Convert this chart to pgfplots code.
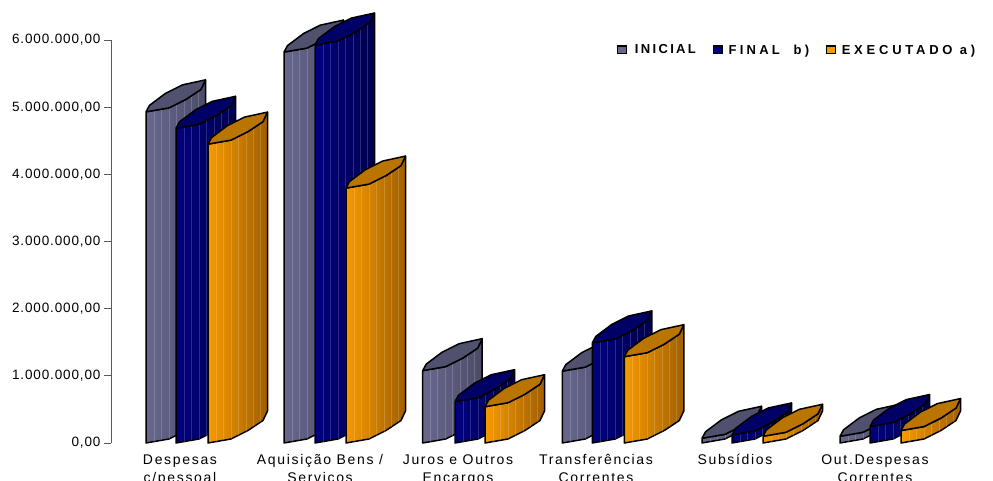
\documentclass[border=0pt]{standalone}
\usepackage{fontspec}
\usepackage{pgfplots}
\usepackage{pgfplotstable}
\pgfplotsset{compat=1.18}
\setmainfont{Liberation Sans}
\newfontfamily\ticksfont[LetterSpace=6.4]{Liberation Sans}
\newfontfamily\catfont[LetterSpace=12]{Liberation Sans}
\newfontfamily\keyfontA[LetterSpace=18]{Liberation Sans Bold}
\newfontfamily\keyfontB[LetterSpace=25]{Liberation Sans Bold}
\newfontfamily\keyfontC[LetterSpace=29]{Liberation Sans Bold}

% Budget per heading: left edge of each column and amount
\pgfplotstableread{
x1    ini     x2    fin     x3    exe
146.0 4930000 176.0 4685000 208.0 4450000
284.0 5820000 315.0 5925000 346.0 3795000
422.7 1077000 455.0 615000  485.0 540000
562.3 1070000 592.3 1490000 624.3 1285000
702.0 70000   732.0 120000  763.0 100000
840.0 100000  870.0 245000  901.0 185000
}\budget

% Outline of a column: dx, dy are screen offsets, h = 1 for points lifted to the amount
\pgfplotstableread{
dx dy h
0 0 1
23 4 1
40 12.5 1
55 22.5 1
59.5 32 1
59.5 32 0
55 22.5 0
40 12.5 0
23 4 0
0 0 0
0 0 1
}\shapefront
\pgfplotstableread{
dx dy h
0 0 1
23 4 1
40 12.5 1
55 22.5 1
59.5 32 1
36.5 27 1
19.5 18.5 1
3.5 6.5 1
0 0 1
}\shapecap
% Facet lines on the curved face
\pgfplotstableread{
dx dy h
8 1.4 0
8 1.4 1
nan nan nan
15 2.6 0
15 2.6 1
nan nan nan
23 4 0
23 4 1
nan nan nan
30 7.4 0
30 7.4 1
nan nan nan
38 11.4 0
38 11.4 1
nan nan nan
45 15.8 0
45 15.8 1
nan nan nan
52 20.5 0
52 20.5 1
}\shapelines

\definecolor{iniL}{HTML}{68688F}
\definecolor{iniR}{HTML}{4B4B68}
\definecolor{iniC}{HTML}{50506F}
\definecolor{finL}{HTML}{000080}
\definecolor{finR}{HTML}{00004F}
\definecolor{finC}{HTML}{000066}
\definecolor{exeL}{HTML}{F79A00}
\definecolor{exeR}{HTML}{A05F00}
\definecolor{exeC}{HTML}{BA7400}

\newcommand\cylbar[3]{%
  \addplot[forget plot, left color=#3L, right color=#3R, draw=black, line width=1.5pt, line join=round, mark=none]
    table[x expr=\thisrow{dx}+#1, y expr=\thisrow{dy}*14888+\thisrow{h}*#2] {\shapefront};
  \addplot[forget plot, draw=white, draw opacity=0.17, line width=0.5pt, mark=none, unbounded coords=jump]
    table[x expr=\thisrow{dx}+#1, y expr=\thisrow{dy}*14888+\thisrow{h}*#2] {\shapelines};
  \addplot[forget plot, fill=#3C, draw=black, line width=1.5pt, line join=round, mark=none]
    table[x expr=\thisrow{dx}+#1, y expr=\thisrow{dy}*14888+\thisrow{h}*#2] {\shapecap};
}
\newcommand\cylrow[1]{%
  \pgfplotstablegetelem{#1}{x1}\of\budget\edef\xa{\pgfplotsretval}%
  \pgfplotstablegetelem{#1}{ini}\of\budget\edef\va{\pgfplotsretval}%
  \pgfplotstablegetelem{#1}{x2}\of\budget\edef\xb{\pgfplotsretval}%
  \pgfplotstablegetelem{#1}{fin}\of\budget\edef\vb{\pgfplotsretval}%
  \pgfplotstablegetelem{#1}{x3}\of\budget\edef\xc{\pgfplotsretval}%
  \pgfplotstablegetelem{#1}{exe}\of\budget\edef\vc{\pgfplotsretval}%
  \edef\doit{\noexpand\cylbar{\xa}{\va}{ini}\noexpand\cylbar{\xb}{\vb}{fin}\noexpand\cylbar{\xc}{\vc}{exe}}\doit
}

\begin{document}
\begin{tikzpicture}[x=1pt,y=1pt]
\begin{axis}[
  at={(111pt,38pt)}, anchor=south west,
  scale only axis, width=882pt, height=403pt,
  xmin=111, xmax=993, ymin=0, ymax=6000000,
  clip=false,
  axis y line=left, axis x line=bottom,
  axis line style={-, draw=black!65, line width=0.9pt},
  x axis line style={draw=none},
  ytick={0,1000000,2000000,3000000,4000000,5000000,6000000},
  scaled y ticks=false,
  yticklabel style={
    font=\ticksfont\fontsize{13.5}{15}\selectfont,
    /pgf/number format/.cd, fixed, fixed zerofill, precision=2, use comma, 1000 sep={.},
    assume math mode=true},
  y tick style={draw=black!65, line width=0.9pt},
  tick align=outside, major tick length=7pt,
  xtick={180,320,458,596,735,875},
  x tick style={draw=none},
  xticklabels={{Despesas\\c/pessoal},{Aquisição Bens /\\Servicos},{Juros e Outros\\Encargos},
    {Transferências\\Correntes},{Subsídios},{Out.Despesas\\Correntes}},
  xticklabel style={align=center, font=\catfont\fontsize{14}{18}\selectfont, yshift=-1pt},
  legend columns=3,
  legend style={draw=none, fill=none, at={(axis cs:614,5850000)}, anchor=west,
    font=\fontsize{13}{15}\selectfont,
    /tikz/every even column/.append style={column sep=15pt}},
  legend image code/.code={\draw[#1, line width=1.2pt] (0pt,-3.8pt) rectangle (8.5pt,4pt);},
]
\pgfplotsinvokeforeach{0,...,5}{\cylrow{#1}}
\addlegendimage{fill=iniL, draw=black}
\addlegendentry{\hspace*{6pt}{\keyfontA INICIAL}}
\addlegendimage{fill=finL, draw=black}
\addlegendentry{\hspace*{4pt}{\keyfontB FINAL\ \ b)}}
\addlegendimage{fill=exeL, draw=black}
\addlegendentry{\hspace*{4pt}{\keyfontC EXECUTADO\ a)}}
\end{axis}
\pgfresetboundingbox
\path[use as bounding box] (0pt,0pt) rectangle (993pt,481pt);
\end{tikzpicture}
\end{document}
